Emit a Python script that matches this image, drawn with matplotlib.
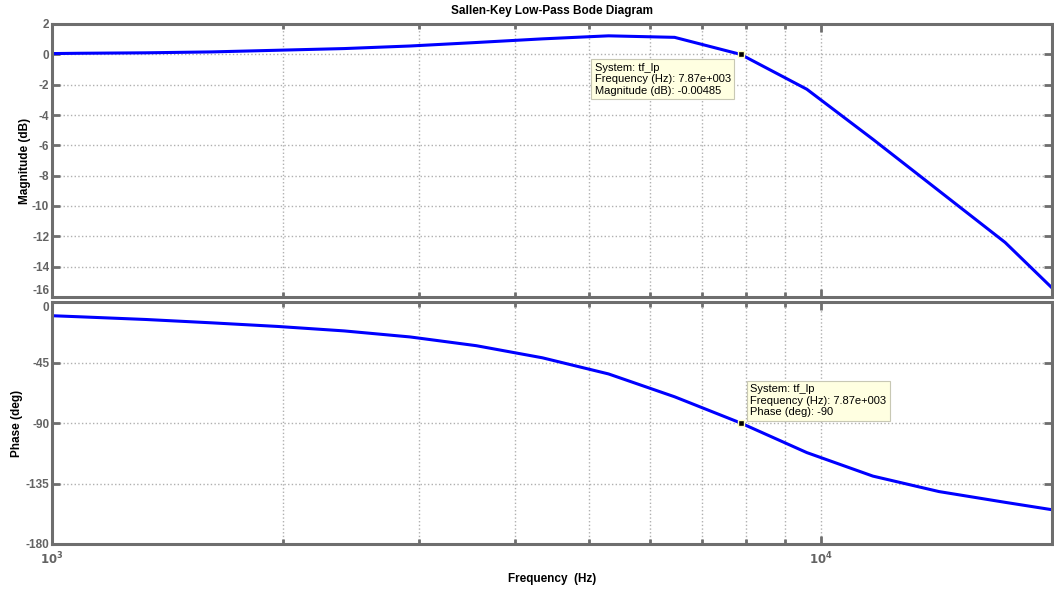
import numpy as np
import matplotlib
matplotlib.use("Agg")
import matplotlib.pyplot as plt
from matplotlib.ticker import FixedLocator, LogLocator, NullFormatter, FuncFormatter

plt.rcParams['font.family'] = ['Liberation Sans', 'DejaVu Sans']

# Frequency response samples of the Sallen-Key low-pass filter
freq_hz = [1000, 1086, 1324, 1614, 1968, 2399, 2924, 3565, 4345, 5297,
           6457, 7870, 9594, 11695, 14256, 17378, 20000]
magnitude_db = [0.05, 0.07, 0.10, 0.16, 0.27, 0.38, 0.55, 0.78, 1.02, 1.22,
                1.12, -0.00485, -2.3, -5.6, -9.0, -12.4, -15.4]
phase_deg = [-10.2, -11.0, -13.0, -15.5, -18.2, -21.5, -26.0, -32.5, -41.5,
             -53.5, -70.5, -90.0, -112.0, -129.5, -141.0, -149.0, -154.5]

mag_ticks = [2, 0, -2, -4, -6, -8, -10, -12, -14, -16]
phase_ticks = [0, -45, -90, -135, -180]

tip_index = 7870
system_name = "tf_lp"

W, H = 1054, 590
fig = plt.figure(figsize=(W / 100, H / 100), dpi=100)

def frac_box(l, t, r, b):
    return [l / W, 1 - b / H, (r - l) / W, (b - t) / H]

ax_mag = fig.add_axes(frac_box(52, 24, 1052, 297))
ax_ph = fig.add_axes(frac_box(52, 302, 1052, 544))

spine_col = '#6e6e6e'
tick_col = '#6e6e6e'
label_col = '#636363'
line_col = (0, 0, 1)

def decade_label(v, pos):
    exp = int(round(np.log10(v)))
    return r'$\mathbf{10^{%d}}$' % exp

for ax in (ax_mag, ax_ph):
    ax.set_xscale('log')
    ax.set_xlim(1000, 20000)
    ax.xaxis.set_major_locator(LogLocator(base=10, numticks=10))
    ax.xaxis.set_major_formatter(FuncFormatter(decade_label))
    ax.xaxis.set_minor_locator(LogLocator(base=10, subs=np.arange(2, 10), numticks=20))
    ax.xaxis.set_minor_formatter(NullFormatter())
    for s in ax.spines.values():
        s.set_color(spine_col)
        s.set_linewidth(2.2)
    ax.tick_params(axis='both', which='major', direction='in', length=6,
                   width=2, color=tick_col, top=True, right=True,
                   labelcolor=label_col, labelsize=8.5, pad=2)
    ax.tick_params(axis='both', which='minor', direction='in', length=3.5,
                   width=2, color=tick_col, top=True, right=True)
    ax.grid(True, which='major', color='#b0b0b0', linestyle=':', linewidth=1)
    ax.grid(True, which='minor', axis='x', color='#b0b0b0', linestyle=':', linewidth=1)
    ax.set_axisbelow(True)

# Magnitude panel
ax_mag.plot(freq_hz, magnitude_db, color=line_col, linewidth=2.2, solid_joinstyle='miter')
ax_mag.set_ylim(-16, 2)
ax_mag.yaxis.set_major_locator(FixedLocator(mag_ticks))
ax_mag.set_yticklabels([str(v) for v in mag_ticks], fontweight='bold')
ax_mag.tick_params(axis='x', which='both', labelbottom=False)
ax_mag.set_ylabel('Magnitude (dB)', fontsize=8.5, fontweight='bold', labelpad=1)
ax_mag.set_title('Sallen-Key Low-Pass Bode Diagram', fontsize=8.5,
                 fontweight='bold', pad=7)
# keep the lowest label clear of the panel below
ax_mag.get_yticklabels()[-1].set_va('bottom')

# Phase panel
ax_ph.plot(freq_hz, phase_deg, color=line_col, linewidth=2.2, solid_joinstyle='miter')
ax_ph.set_ylim(-180, 0)
ax_ph.yaxis.set_major_locator(FixedLocator(phase_ticks))
ax_ph.set_yticklabels([str(v) for v in phase_ticks], fontweight='bold')
ax_ph.get_yticklabels()[0].set_va('top')
ax_ph.tick_params(axis='x', which='major', pad=5)
ax_ph.set_ylabel('Phase (deg)', fontsize=8.5, fontweight='bold', labelpad=2)
ax_ph.set_xlabel('Frequency  (Hz)', fontsize=8.5, fontweight='bold')
ax_ph.xaxis.set_label_coords(0.5, -0.118)

# Data tips at the marked frequency
i_tip = freq_hz.index(tip_index)
tip_box = dict(boxstyle='square,pad=0.3', facecolor='#ffffe1', edgecolor='#c8c8b4', linewidth=0.8)

mag_text = (f"System: {system_name}\n"
            f"Frequency (Hz): {freq_hz[i_tip] / 1000:.2f}e+003\n"
            f"Magnitude (dB): {magnitude_db[i_tip]:g}")
ax_mag.annotate(mag_text, xy=(freq_hz[i_tip], magnitude_db[i_tip]),
                xytext=(-7, -6), textcoords='offset points', ha='right', va='top',
                multialignment='left', fontsize=8, linespacing=1.2,
                bbox=tip_box, zorder=5)
ax_mag.plot([freq_hz[i_tip]], [magnitude_db[i_tip]], marker='s', markersize=4.5,
            color='black', markeredgecolor='#ffffc0', markeredgewidth=1, zorder=6)

ph_text = (f"System: {system_name}\n"
           f"Frequency (Hz): {freq_hz[i_tip] / 1000:.2f}e+003\n"
           f"Phase (deg): {phase_deg[i_tip]:g}")
ax_ph.annotate(ph_text, xy=(freq_hz[i_tip], phase_deg[i_tip]),
               xytext=(7, 4), textcoords='offset points', ha='left', va='bottom',
               multialignment='left', fontsize=8, linespacing=1.2,
               bbox=tip_box, zorder=5)
ax_ph.plot([freq_hz[i_tip]], [phase_deg[i_tip]], marker='s', markersize=4.5,
           color='black', markeredgecolor='#ffffc0', markeredgewidth=1, zorder=6)

fig.savefig('out.png', dpi=100)
